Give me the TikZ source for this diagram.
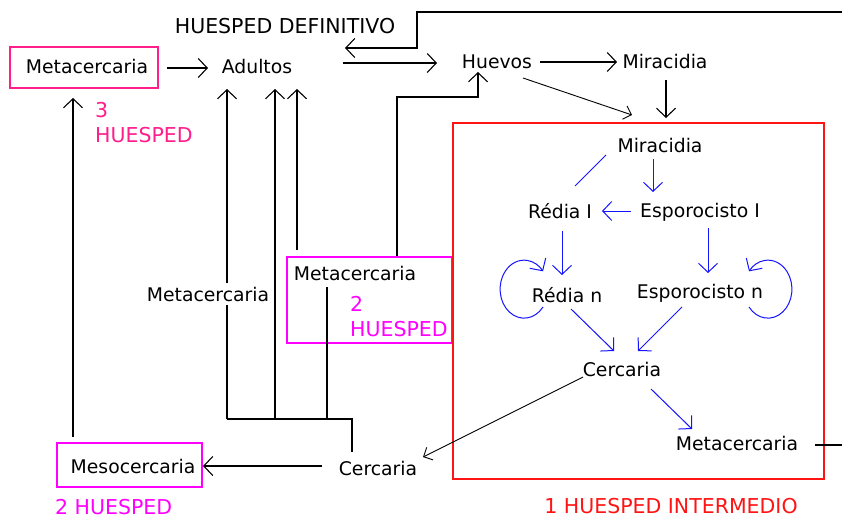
\documentclass[tikz,border=0pt]{standalone}
\usepackage{fontspec}
\setmainfont{DejaVu Sans}
\usetikzlibrary{arrows.meta}
\definecolor{hotpink}{RGB}{255,30,140}
\definecolor{mag}{RGB}{255,0,255}
\definecolor{redbox}{RGB}{255,20,20}
\definecolor{bl}{RGB}{20,20,255}
\tikzset{
  lbl/.style={inner sep=0pt, anchor=base, font=\fontsize{18.8}{22}\selectfont},
  caps/.style={inner sep=0pt, font=\fontsize{20.5}{26}\selectfont},
  arr/.style={line width=1.1pt, -{Straight Barb[length=9pt,width=19pt]}},
  ln/.style={line width=1.1pt},
  thinarr/.style={line width=0.9pt, -{Straight Barb[length=7pt,width=14pt]}},
  barr/.style={bl, line width=1pt, -{Straight Barb[length=9pt,width=19pt]}},
}
\begin{document}
\begin{tikzpicture}[x=1pt,y=-1pt]
\useasboundingbox (0,0) rectangle (842,519);
% boxes
\node[draw=hotpink, line width=1.2pt, minimum width=148pt, minimum height=41pt, inner sep=0pt] (metaTLbox) at (84,67.5) {};
\node[draw=mag, line width=1.2pt, minimum width=165pt, minimum height=86pt, inner sep=0pt] (meta2box) at (369.5,300) {};
\node[draw=mag, line width=1.2pt, minimum width=145pt, minimum height=44pt, inner sep=0pt] (mesobox) at (129.5,465) {};
\node[draw=redbox, line width=1.2pt, minimum width=371pt, minimum height=356pt, inner sep=0pt] (host1) at (638.5,301) {};
% texts
\node[caps, anchor=base] (hdef) at (285,34) {HUESPED DEFINITIVO};
\node[lbl] (metaTL) at (87,74) {Metacercaria};
\node[lbl] (adultos) at (257,73) {Adultos};
\node[lbl] (huevos) at (497,68) {Huevos};
\node[lbl] (mira1) at (665,68) {Miracidia};
\node[caps, text=hotpink, anchor=base west] (h3a) at (95,117) {3};
\node[caps, text=hotpink, anchor=base west] (h3b) at (95,142) {HUESPED};
\node[lbl] (mira2) at (660,152) {Miracidia};
\node[lbl] (rediaI) at (560,218) {Rédia I};
\node[lbl] (espI) at (700,217) {Esporocisto I};
\node[lbl] (redian) at (567,302) {Rédia n};
\node[lbl] (espn) at (700,298) {Esporocisto n};
\node[lbl] (cerc1) at (622,376) {Cercaria};
\node[lbl] (meta3) at (737,450) {Metacercaria};
\node[caps, text=redbox, anchor=base] (h1) at (671,513) {1 HUESPED INTERMEDIO};
\node[lbl] (meta2) at (355,280) {Metacercaria};
\node[caps, text=mag, anchor=base west] (h2a) at (350,311) {2};
\node[caps, text=mag, anchor=base west] (h2b) at (350,336) {HUESPED};
\node[lbl] (cerc2) at (378,475) {Cercaria};
\node[lbl] (meso) at (133,473) {Mesocercaria};
\node[caps, text=mag, anchor=base west] (h2c) at (55,514) {2 HUESPED};
% black connectors
\draw[arr] (167,68) -- (208,68);
\draw[arr] (343,63) -- (437,63);
\coordinate (exitR) at (842,445);
\coordinate (enterR) at (842,12);
\draw[ln] (815,445) -- (exitR);
\draw[arr] (enterR) -- (417,12) -- (417,48) -- (345,48);
\draw[arr] (540,62) -- (617,62);
\draw[arr] (666,80) -- (666,118);
\draw[thinarr] (523,78) -- (632,115);
\draw[arr] (397,256) -- (397,97) -- (478,97) -- (478,72);
\draw[ln] (227,419) -- (352,419) -- (352,452);
\draw[ln] (327,287) -- (327,419);
\draw[arr] (275,419) -- (275,89);
\draw[arr] (297,250) -- (297,89);
\draw[arr] (227,419) -- (227,89);
\node[lbl, fill=white, inner ysep=4pt, inner xsep=0pt] (metaL) at (208,301) {Metacercaria};
\draw[arr] (322,466) -- (203,466);
\draw[arr] (73,437) -- (73,98);
\draw[thinarr] (583,377) -- (423,457);
% blue connectors
\draw[bl, line width=1pt] (606,155) -- (575,186);
\draw[barr] (653,159) -- (653,192);
\draw[barr] (631,211) -- (602,211);
\draw[barr] (562,231) -- (562,275);
\draw[barr] (708,228) -- (708,273);
\draw[barr] (543,307) arc[start angle=38, end angle=322, x radius=24, y radius=29];
\draw[barr] (749,307) arc[start angle=142, end angle=-142, x radius=24, y radius=29];
\draw[barr] (571,309) -- (614,351);
\draw[barr] (682,307) -- (638,351);
\draw[barr] (651,389) -- (692,429);
\end{tikzpicture}
\end{document}
